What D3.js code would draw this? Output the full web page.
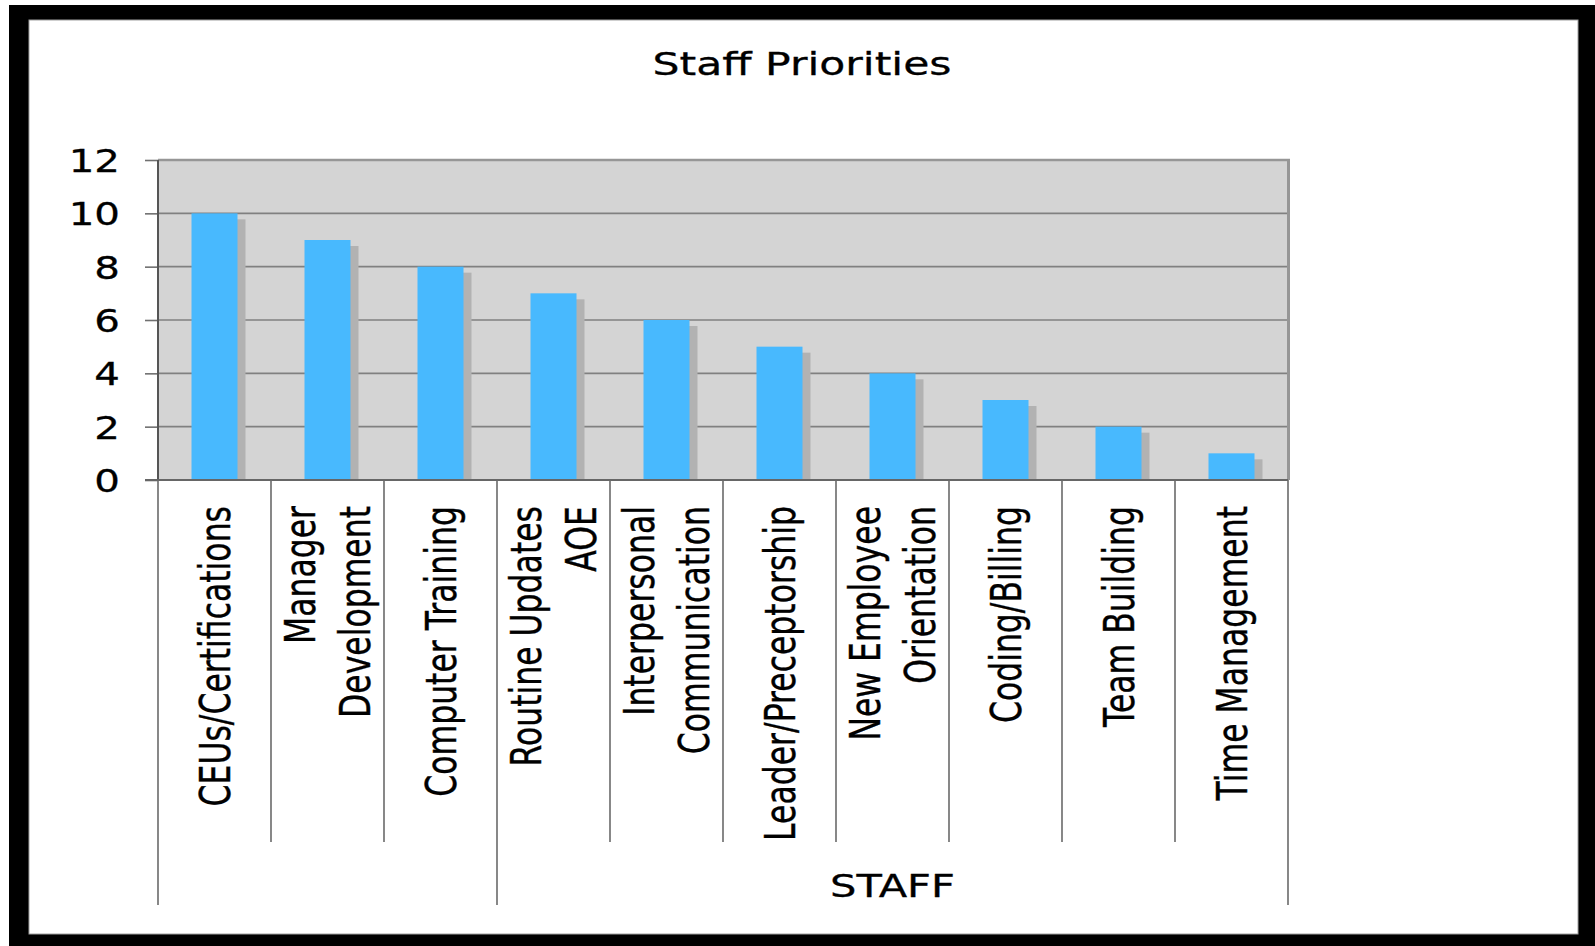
<!DOCTYPE html>
<html>
<head>
<meta charset="utf-8">
<script src="https://cdn.jsdelivr.net/npm/d3@7/dist/d3.min.js"></script>
<style>
  html, body { margin: 0; padding: 0; background: #ffffff; }
  svg { display: block; }
  text { font-family: "DejaVu Sans", Verdana, sans-serif; fill: #000; stroke: #000; stroke-width: 0.3px; }
</style>
</head>
<body>
<svg id="chart" width="1595" height="946"></svg>
<script>
// ---- data ----
const title = "Staff Priorities";
const categories = [
  "CEUs/Certifications",
  "Manager\nDevelopment",
  "Computer Training",
  "Routine Updates\nAOE",
  "Interpersonal\nCommunication",
  "Leader/Preceptorship",
  "New Employee\nOrientation",
  "Coding/Billing",
  "Team Building",
  "Time Management"
];
const values = [10, 9, 8, 7, 6, 5, 4, 3, 2, 1];
const groupLabels = ["", "STAFF"];
const groupSizes = [3, 7];
const yTicks = [0, 2, 4, 6, 8, 10, 12];

// ---- layout ----
const W = 1595, H = 946;
const plot = { left: 158, right: 1288, top: 160, bottom: 480 };
const SX = 1.33; // horizontal stretch of text

const svg = d3.select("#chart");

// frame
svg.append("rect").attr("x", 9).attr("y", 5).attr("width", W - 9).attr("height", H - 5).attr("fill", "#000");
svg.append("rect").attr("x", 29).attr("y", 20).attr("width", 1578 - 29).attr("height", 934 - 20)
  .attr("fill", "#fff").attr("stroke", "#a0a0a0").attr("stroke-width", 1);

const x = d3.scaleBand().domain(categories).range([plot.left, plot.right])
  .paddingInner(0.593).paddingOuter(0.2965);
const y = d3.scaleLinear().domain([0, 12]).range([plot.bottom, plot.top]);

// plot background
svg.append("rect").attr("x", plot.left).attr("y", plot.top)
  .attr("width", plot.right - plot.left).attr("height", plot.bottom - plot.top)
  .attr("fill", "#d4d4d4");

// gridlines
svg.append("g").selectAll("line").data(yTicks.filter(t => t > 0 && t < 12)).join("line")
  .attr("x1", plot.left).attr("x2", plot.right)
  .attr("y1", d => y(d)).attr("y2", d => y(d))
  .attr("stroke", "#808080").attr("stroke-width", 1.6);

// top and right borders
svg.append("line").attr("x1", plot.left).attr("x2", plot.right + 2)
  .attr("y1", y(12)).attr("y2", y(12)).attr("stroke", "#969696").attr("stroke-width", 2.5);
svg.append("line").attr("x1", plot.right + 0.5).attr("x2", plot.right + 0.5)
  .attr("y1", y(12) - 1).attr("y2", plot.bottom).attr("stroke", "#969696").attr("stroke-width", 3);

// shadows
svg.append("g").selectAll("rect").data(categories).join("rect")
  .attr("x", d => x(d) + 8)
  .attr("y", (d, i) => y(values[i]) + 6)
  .attr("width", x.bandwidth())
  .attr("height", (d, i) => y(0) - y(values[i]) - 6)
  .attr("fill", "#b2b2b2");

// bars
svg.append("g").selectAll("rect").data(categories).join("rect")
  .attr("x", d => x(d))
  .attr("y", (d, i) => y(values[i]))
  .attr("width", x.bandwidth())
  .attr("height", (d, i) => y(0) - y(values[i]))
  .attr("fill", "#48b9fe");

// y axis
const yAxis = svg.append("g").attr("transform", `translate(${plot.left},0)`)
  .call(d3.axisLeft(y).tickValues(yTicks).tickSize(13).tickPadding(25).tickFormat(d3.format("d")));
yAxis.select(".domain").remove();
yAxis.selectAll(".tick line").attr("stroke", "#707070").attr("stroke-width", 1.6);
yAxis.selectAll(".tick text")
  .attr("font-size", 31.5).attr("font-family", "DejaVu Sans")
  .attr("x", -38 / 1.28).attr("dy", "0.36em")
  .attr("transform", "scale(1.28,1)");
svg.append("line").attr("x1", plot.left).attr("x2", plot.left)
  .attr("y1", plot.top).attr("y2", plot.bottom)
  .attr("stroke", "#555").attr("stroke-width", 2);

// x axis base line
svg.append("line").attr("x1", 145).attr("x2", plot.right)
  .attr("y1", plot.bottom).attr("y2", plot.bottom)
  .attr("stroke", "#666").attr("stroke-width", 1.8);

// category separators
const step = x.step();
const groupBounds = [0];
groupSizes.forEach(s => groupBounds.push(groupBounds[groupBounds.length - 1] + s));
const bounds = d3.range(categories.length + 1);
svg.append("g").selectAll("line").data(bounds).join("line")
  .attr("x1", i => plot.left + i * step).attr("x2", i => plot.left + i * step)
  .attr("y1", plot.bottom)
  .attr("y2", i => groupBounds.includes(i) ? 905 : 842)
  .attr("stroke", "#6a6a6a").attr("stroke-width", 1.6);

// category labels (rotated)
const labFs = 31.5, lh = 1.3;
const labG = svg.append("g");
categories.forEach((c, i) => {
  const lines = c.split("\n");
  const cx = x(c) + x.bandwidth() / 2;
  const t = labG.append("text")
    .attr("transform", `translate(${cx},506) scale(${SX},1) rotate(-90)`)
    .attr("text-anchor", "end")
    .attr("font-size", labFs);
  lines.forEach((ln, j) => {
    const off = (j - (lines.length - 1) / 2) * lh + 0.36;
    t.append("tspan").attr("x", 0).attr("y", 0).attr("dy", off + "em").text(ln);
  });
});

// group labels
groupLabels.forEach((g, k) => {
  if (!g) return;
  const gx = plot.left + (groupBounds[k] + groupBounds[k + 1]) / 2 * step;
  svg.append("text")
    .attr("transform", `translate(${gx},897) scale(1.3,1)`)
    .attr("text-anchor", "middle").attr("font-size", 32).text(g);
});

// title
svg.append("text")
  .attr("transform", `translate(802,75) scale(${SX},1)`)
  .attr("text-anchor", "middle").attr("font-size", 32).text(title);
</script>
</body>
</html>
